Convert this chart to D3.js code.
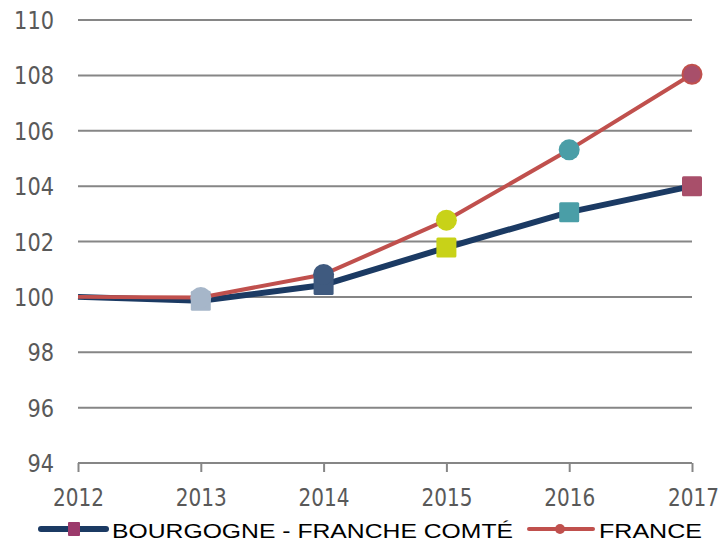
<!DOCTYPE html>
<html><head><meta charset="utf-8">
<script src="https://cdn.jsdelivr.net/npm/d3@7/dist/d3.min.js"></script>
<style>body{margin:0;background:#fff}</style>
</head><body>
<svg id="c" width="726" height="541"></svg>
<script>
const years = [2012, 2013, 2014, 2015, 2016, 2017];
const bourgogne = [100, 99.86, 100.43, 101.78, 103.06, 104.0];
const france = [100, 99.98, 100.81, 102.77, 105.31, 108.04];
const yTicks = [94, 96, 98, 100, 102, 104, 106, 108, 110];
const seriesNames = ["BOURGOGNE - FRANCHE COMTÉ", "FRANCE"];
const pointColors = [null, "#a6b6c9", "#3f5a7f", "#c8d218", "#4a9ea7", "#a84f6a"];

const W = 726, H = 541;
const m = {top: 20, right: 34, bottom: 78, left: 78};
const svg = d3.select("#c");
const x = d3.scaleLinear().domain([2012, 2017]).range([m.left, W - m.right]);
const y = d3.scaleLinear().domain([94, 110]).range([H - m.bottom, m.top]);

const grid = "#868686", txt = "#595959";

// gridlines
svg.append("g").selectAll("line").data(yTicks).join("line")
  .attr("x1", x(2012)).attr("x2", x(2017))
  .attr("y1", d => y(d)).attr("y2", d => y(d))
  .attr("stroke", grid).attr("stroke-width", 2);

// y labels
svg.append("g").selectAll("text").data(yTicks).join("text")
  .attr("x", 54).attr("y", d => y(d) + 9)
  .attr("text-anchor", "end")
  .attr("font-family", "DejaVu Sans Condensed, DejaVu Sans")
  .attr("font-size", 25).attr("fill", txt)
  .attr("textLength", d => String(d).length * 13.3)
  .attr("lengthAdjust", "spacingAndGlyphs")
  .text(d => d);

// x axis ticks
const xAxis = d3.axisBottom(x).tickValues(years).tickFormat(d3.format("d")).tickSize(9).tickSizeOuter(0);
const gx = svg.append("g").attr("transform", `translate(0,${y(94)})`).call(xAxis);
gx.select(".domain").remove();
gx.selectAll(".tick line").attr("stroke", grid).attr("stroke-width", 2);
gx.selectAll(".tick text")
  .attr("y", 43).attr("dy", 0)
  .attr("font-family", "DejaVu Sans Condensed, DejaVu Sans")
  .attr("font-size", 25).attr("fill", txt)
  .attr("textLength", 51).attr("lengthAdjust", "spacingAndGlyphs")
  .attr("dx", d => d === 2017 ? 1 : 0);

const line = d3.line().x((d, i) => x(years[i])).y(d => y(d));

// Bourgogne
svg.append("path").datum(bourgogne).attr("d", line)
  .attr("fill", "none").attr("stroke", "#1b3a63").attr("stroke-width", 6).attr("stroke-linejoin", "round");
svg.append("g").selectAll("rect").data(bourgogne.map((v, i) => ({v, i})).filter(d => pointColors[d.i]))
  .join("rect")
  .attr("x", d => x(years[d.i]) - 10).attr("y", d => y(d.v) - 10)
  .attr("width", 20).attr("height", 20).attr("rx", 1.5)
  .attr("fill", d => pointColors[d.i]);

// France
svg.append("path").datum(france).attr("d", line)
  .attr("fill", "none").attr("stroke", "#c0504d").attr("stroke-width", 4).attr("stroke-linejoin", "round");
svg.append("g").selectAll("circle").data(france.map((v, i) => ({v, i})).filter(d => pointColors[d.i]))
  .join("circle")
  .attr("cx", d => x(years[d.i])).attr("cy", d => y(d.v)).attr("r", d => d.i === 5 ? 9.5 : 10.5)
  .attr("fill", d => pointColors[d.i])
  .attr("stroke", d => d.i === 5 ? "#c0504d" : "none").attr("stroke-width", 2);

// legend
const lg = svg.append("g");
const ly = 529;
lg.append("line").attr("x1", 41).attr("x2", 106).attr("y1", ly).attr("y2", ly)
  .attr("stroke", "#1b3a63").attr("stroke-width", 6).attr("stroke-linecap", "round");
lg.append("rect").attr("x", 68).attr("y", ly - 7).attr("width", 12).attr("height", 14).attr("rx", 1).attr("fill", "#9b3a6b");
lg.append("text").attr("x", 112).attr("y", 538)
  .attr("font-family", "Liberation Sans, Arial").attr("font-size", 21).attr("fill", "#000")
  .attr("textLength", 401).attr("lengthAdjust", "spacingAndGlyphs")
  .text(seriesNames[0]);
lg.append("line").attr("x1", 529).attr("x2", 593).attr("y1", ly).attr("y2", ly)
  .attr("stroke", "#c0504d").attr("stroke-width", 4).attr("stroke-linecap", "round");
lg.append("circle").attr("cx", 560).attr("cy", ly).attr("r", 5).attr("fill", "#c0504d");
lg.append("text").attr("x", 599).attr("y", 538)
  .attr("font-family", "Liberation Sans, Arial").attr("font-size", 21).attr("fill", "#000")
  .attr("textLength", 103).attr("lengthAdjust", "spacingAndGlyphs")
  .text(seriesNames[1]);
</script>
</body></html>
